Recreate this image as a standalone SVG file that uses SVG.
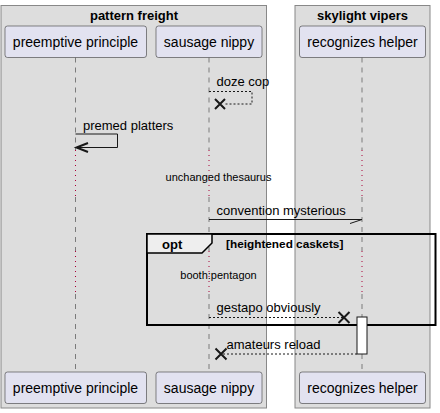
<svg xmlns="http://www.w3.org/2000/svg" width="440" height="413" viewBox="0 0 440 413">
<style>
.grp{fill:#DDDDDD;stroke:#888888;stroke-width:1}
.gt{font-family:"Liberation Sans",Arial,sans-serif;font-size:13px;font-weight:bold;fill:#000;text-anchor:middle}
.pb{fill:#E2E2F0;stroke:#181818;stroke-width:0.5}
.pt{font-family:"Liberation Sans",Arial,sans-serif;font-size:14px;fill:#000;text-anchor:middle}
.life{stroke:#181818;stroke-width:0.5;stroke-dasharray:5,5;fill:none}
.delay{stroke:#A80036;stroke-width:1;stroke-dasharray:1,4;fill:none}
.msg{stroke:#181818;stroke-width:1;fill:none}
.dash{stroke:#181818;stroke-width:1;stroke-dasharray:2,2;fill:none}
.x{stroke:#181818;stroke-width:2}
.mt{font-family:"Liberation Sans",Arial,sans-serif;font-size:13px;fill:#000}
.dt{font-family:"Liberation Sans",Arial,sans-serif;font-size:11px;fill:#000;text-anchor:middle}
.frame{fill:none;stroke:#000;stroke-width:2}
.tab{fill:#EEEEEE;stroke:#000;stroke-width:1.5}
.ft{font-family:"Liberation Sans",Arial,sans-serif;font-weight:bold;fill:#000}
</style>
<rect width="440" height="413" fill="#FFFFFF"/>
<g id="box-pattern-freight">
<rect class="grp" x="1" y="5.5" width="265.5" height="402.5"/>
<text class="gt" x="134" y="19.5">pattern freight</text>
</g>
<g id="box-skylight-vipers">
<rect class="grp" x="295" y="5.5" width="135" height="402.5"/>
<text class="gt" x="362.5" y="19.5">skylight vipers</text>
</g>
<g id="lifelines">
<path class="life" d="M75.5,57.5V150M75.5,197V251M75.5,294V372"/>
<path class="delay" d="M75.5,150V197M75.5,251V294"/>
<path class="life" d="M209,57.5V150M209,197V251M209,294V372"/>
<path class="delay" d="M209,150V197M209,251V294"/>
<path class="life" d="M362,57.5V150M362,197V251M362,294V372"/>
<path class="delay" d="M362,150V197M362,251V294"/>
</g>
<g id="opt-frame">
<rect class="frame" x="147" y="234" width="288.5" height="91"/>
<polygon class="tab" points="147,234 212,234 212,243 202,253 147,253"/>
<text class="ft" x="162" y="249" font-size="13px">opt</text>
<text class="ft" x="226" y="248" font-size="11.8px">[heightened caskets]</text>
</g>
<g id="delay-texts">
<text class="dt" x="218.5" y="180.5">unchanged thesaurus</text>
<text class="dt" x="218.5" y="278.5">booth:pentagon</text>
</g>
<g id="p-preemptive-principle">
<rect class="pb" x="5" y="26" width="141.5" height="31.5" rx="2.5"/>
<text class="pt" x="75.5" y="47">preemptive principle</text>
<rect class="pb" x="5" y="372" width="141.5" height="31.5" rx="2.5"/>
<text class="pt" x="75.5" y="393">preemptive principle</text>
</g>
<g id="p-sausage-nippy">
<rect class="pb" x="156" y="26" width="106" height="31.5" rx="2.5"/>
<text class="pt" x="209" y="47">sausage nippy</text>
<rect class="pb" x="156" y="372" width="106" height="31.5" rx="2.5"/>
<text class="pt" x="209" y="393">sausage nippy</text>
</g>
<g id="p-recognizes-helper">
<rect class="pb" x="299.5" y="26" width="126" height="31.5" rx="2.5"/>
<text class="pt" x="362.5" y="47">recognizes helper</text>
<rect x="357" y="317" width="10" height="37" fill="#FFFFFF" stroke="#181818" stroke-width="1"/>
<rect class="pb" x="299.5" y="372" width="126" height="31.5" rx="2.5"/>
<text class="pt" x="362.5" y="393">recognizes helper</text>
</g>
<g id="connectors">
<path class="dash" d="M209,91.5H252V104H224"/>
<path class="x" d="M215,99L225,109M215,109L225,99"/>
<text class="mt" x="216.5" y="86">doze cop</text>
<path class="msg" d="M75.5,134H117.5V147.5H77"/>
<polyline points="88,143 76.5,147.5 88,152" fill="none" stroke="#181818" stroke-width="2"/>
<text class="mt" x="83" y="130">premed platters</text>
<path class="msg" d="M209,219.5H362"/>
<path class="msg" d="M362,219.5L350,223.5"/>
<text class="mt" x="216.5" y="215">convention mysterious</text>
<path class="dash" d="M209,317.5H344"/>
<path class="x" d="M338.5,312L349.5,323M338.5,323L349.5,312"/>
<text class="mt" x="216.5" y="312">gestapo obviously</text>
<path class="dash" d="M357,354H221"/>
<path class="x" d="M215.5,348.5L226.5,359.5M215.5,359.5L226.5,348.5"/>
<text class="mt" x="226.5" y="349">amateurs reload</text>
</g>
</svg>
